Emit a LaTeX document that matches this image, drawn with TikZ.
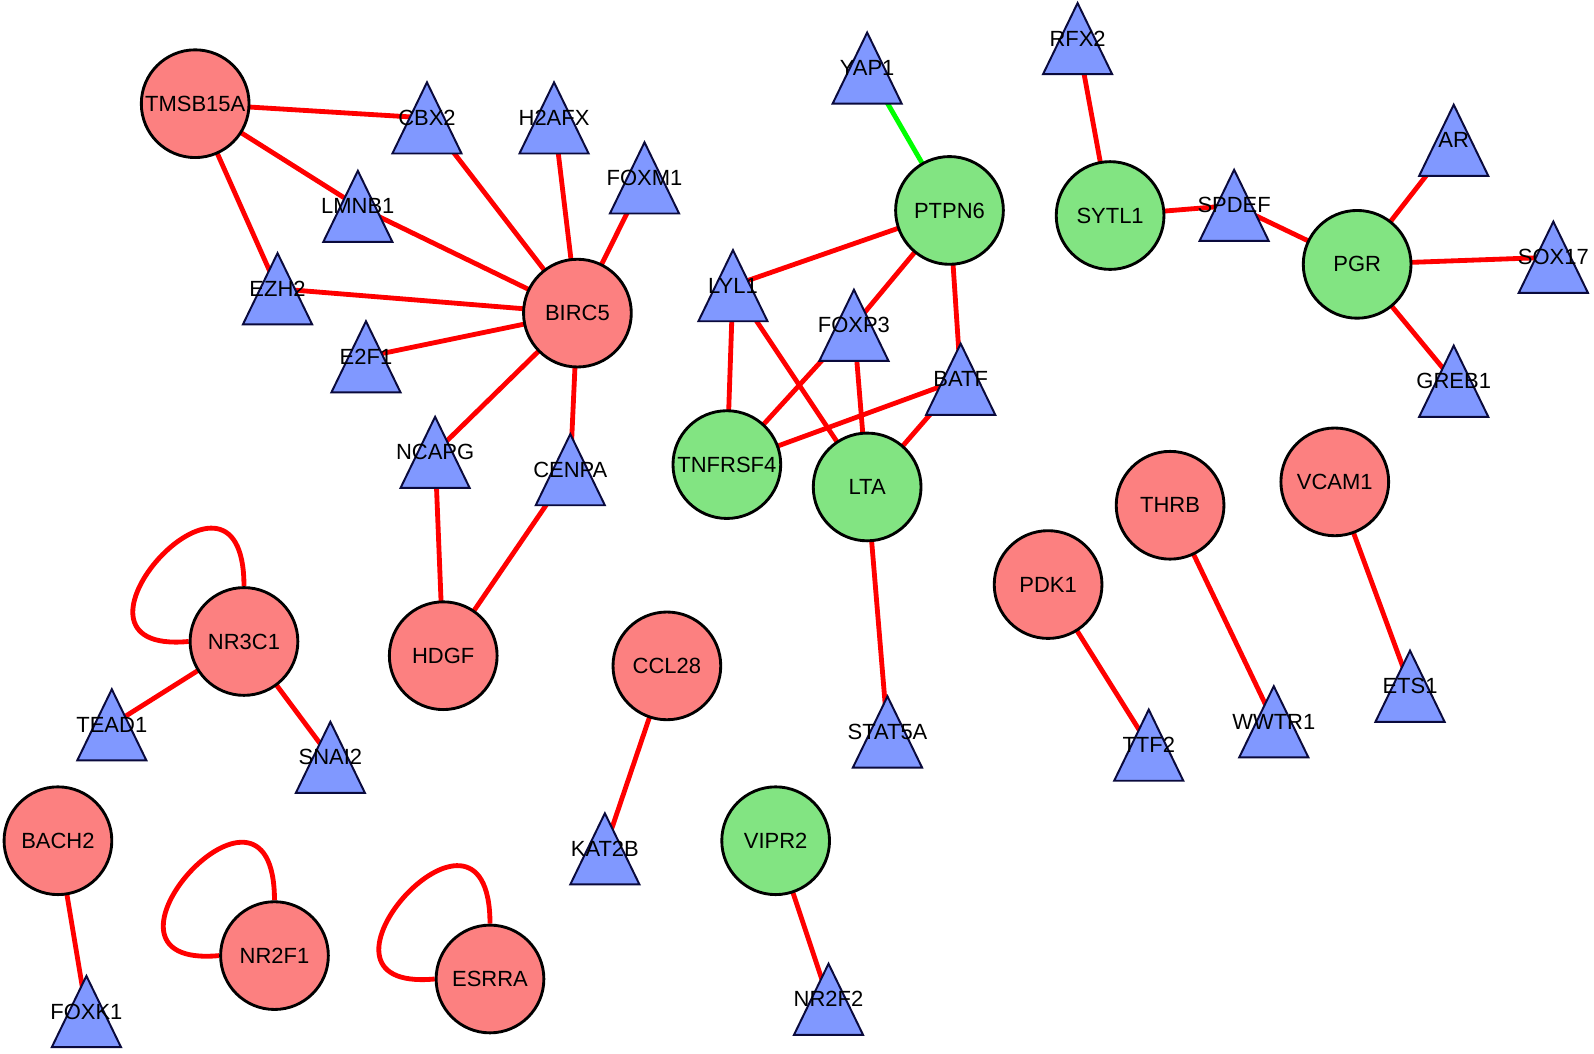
\documentclass[tikz,border=0pt]{standalone}
\usepackage{fontspec}
\setmainfont{Liberation Sans}
\usetikzlibrary{backgrounds}
\definecolor{rednode}{RGB}{252,128,128}
\definecolor{greennode}{RGB}{130,228,130}
\definecolor{bluenode}{RGB}{128,152,255}
\definecolor{tribord}{RGB}{10,10,60}
\newcommand\trinode[4]{%
  \path[trishape] ({#2-34},{#3+35}) -- (#2,{#3-35}) -- ({#2+34},{#3+35}) -- cycle;
  \node[trilabel] (#1) at (#2,#3) {#4};}
\begin{document}
\begin{tikzpicture}[x=0.02cm,y=-0.02cm,
  lab/.style={font=\fontsize{12.3}{14}\selectfont},
  rnode/.style={circle,draw=black,line width=1.6pt,fill=rednode,minimum size=2.12cm,inner sep=0pt,lab},
  gnode/.style={rnode,fill=greennode},
  trishape/.style={draw=tribord,line width=1.1pt,fill=bluenode,line join=miter},
  trilabel/.style={inner sep=0pt,minimum width=1.36cm,minimum height=1.4cm,lab},
  edge/.style={draw=red,line width=2.7pt},
  gedge/.style={draw=green,line width=2.7pt}]
\useasboundingbox (0,0) rectangle (1568,1036);
% top-left cluster
\node[rnode] (TMSB15A) at (192,102) {TMSB15A};
\trinode{CBX2}{420}{116}{CBX2}
\trinode{H2AFX}{545}{116}{H2AFX}
\trinode{FOXM1}{634}{175}{FOXM1}
\trinode{LMNB1}{352}{203}{LMNB1}
\trinode{EZH2}{273}{284}{EZH2}
\trinode{E2F1}{360}{351}{E2F1}
\node[rnode] (BIRC5) at (568,308) {BIRC5};
\trinode{NCAPG}{428}{445}{NCAPG}
\trinode{CENPA}{561}{462}{CENPA}
\node[rnode] (HDGF) at (436,645) {HDGF};
% middle cluster
\trinode{YAP1}{853}{67}{YAP1}
\node[gnode] (PTPN6) at (934,207) {PTPN6};
\trinode{LYL1}{721}{281}{LYL1}
\trinode{FOXP3}{840}{320}{FOXP3}
\trinode{BATF}{945}{373}{BATF}
\node[gnode] (TNFRSF4) at (715,457) {TNFRSF4};
\node[gnode] (LTA) at (853,479) {LTA};
\trinode{STAT5A}{873}{720}{STAT5A}
% right cluster
\trinode{RFX2}{1060}{38}{RFX2}
\node[gnode] (SYTL1) at (1092,212) {SYTL1};
\trinode{SPDEF}{1214}{202}{SPDEF}
\trinode{AR}{1430}{138}{AR}
\node[gnode] (PGR) at (1335,260) {PGR};
\trinode{SOX17}{1528}{253}{SOX17}
\trinode{GREB1}{1430}{375}{GREB1}
% pairs
\node[rnode] (PDK1) at (1031,575) {PDK1};
\node[rnode] (THRB) at (1151,497) {THRB};
\node[rnode] (VCAM1) at (1313,474) {VCAM1};
\trinode{TTF2}{1130}{733}{TTF2}
\trinode{WWTR1}{1253}{710}{WWTR1}
\trinode{ETS1}{1387}{675}{ETS1}
\node[rnode] (CCL28) at (656,655) {CCL28};
\trinode{KAT2B}{595}{835}{KAT2B}
\node[gnode] (VIPR2) at (763,827) {VIPR2};
\trinode{NR2F2}{815}{983}{NR2F2}
\node[rnode] (NR3C1) at (240,631) {NR3C1};
\trinode{TEAD1}{110}{713}{TEAD1}
\trinode{SNAI2}{325}{745}{SNAI2}
\node[rnode] (BACH2) at (57,827) {BACH2};
\trinode{FOXK1}{85}{995}{FOXK1}
\node[rnode] (NR2F1) at (270,940) {NR2F1};
\node[rnode] (ESRRA) at (482,963) {ESRRA};
\begin{pgfonlayer}{background}
\fill[white] (0,0) rectangle (1568,1036);
\draw[edge] (TMSB15A.center) -- (CBX2.center);
\draw[edge] (TMSB15A.center) -- (LMNB1.center);
\draw[edge] (TMSB15A.center) -- (EZH2.center);
\draw[edge] (CBX2.center) -- (BIRC5.center);
\draw[edge] (H2AFX.center) -- (BIRC5.center);
\draw[edge] (FOXM1.center) -- (BIRC5.center);
\draw[edge] (LMNB1.center) -- (BIRC5.center);
\draw[edge] (EZH2.center) -- (BIRC5.center);
\draw[edge] (E2F1.center) -- (BIRC5.center);
\draw[edge] (NCAPG.center) -- (BIRC5.center);
\draw[edge] (CENPA.center) -- (BIRC5.center);
\draw[edge] (NCAPG.center) -- (HDGF.center);
\draw[edge] (CENPA.center) -- (HDGF.center);
\draw[gedge] (YAP1.center) -- (PTPN6.center);
\draw[edge] (PTPN6.center) -- (LYL1.center);
\draw[edge] (PTPN6.center) -- (FOXP3.center);
\draw[edge] (PTPN6.center) -- (BATF.center);
\draw[edge] (LYL1.center) -- (TNFRSF4.center);
\draw[edge] (LYL1.center) -- (LTA.center);
\draw[edge] (FOXP3.center) -- (TNFRSF4.center);
\draw[edge] (FOXP3.center) -- (LTA.center);
\draw[edge] (BATF.center) -- (TNFRSF4.center);
\draw[edge] (BATF.center) -- (LTA.center);
\draw[edge] (LTA.center) -- (STAT5A.center);
\draw[edge] (RFX2.center) -- (SYTL1.center);
\draw[edge] (SYTL1.center) -- (SPDEF.center);
\draw[edge] (SPDEF.center) -- (PGR.center);
\draw[edge] (PGR.center) -- (AR.center);
\draw[edge] (PGR.center) -- (SOX17.center);
\draw[edge] (PGR.center) -- (GREB1.center);
\draw[edge] (NR3C1.center) -- (TEAD1.center);
\draw[edge] (NR3C1.center) -- (SNAI2.center);
\draw[edge] (CCL28.center) -- (KAT2B.center);
\draw[edge] (VIPR2.center) -- (NR2F2.center);
\draw[edge] (BACH2.center) -- (FOXK1.center);
\draw[edge] (PDK1.center) -- (TTF2.center);
\draw[edge] (THRB.center) -- (WWTR1.center);
\draw[edge] (VCAM1.center) -- (ETS1.center);
\draw[edge] (NR3C1.west) .. controls +(-150,14) and +(0,-160) .. (NR3C1.north);
\draw[edge] (NR2F1.west) .. controls +(-150,14) and +(0,-160) .. (NR2F1.north);
\draw[edge] (ESRRA.west) .. controls +(-150,14) and +(0,-160) .. (ESRRA.north);
\end{pgfonlayer}
\end{tikzpicture}
\end{document}
